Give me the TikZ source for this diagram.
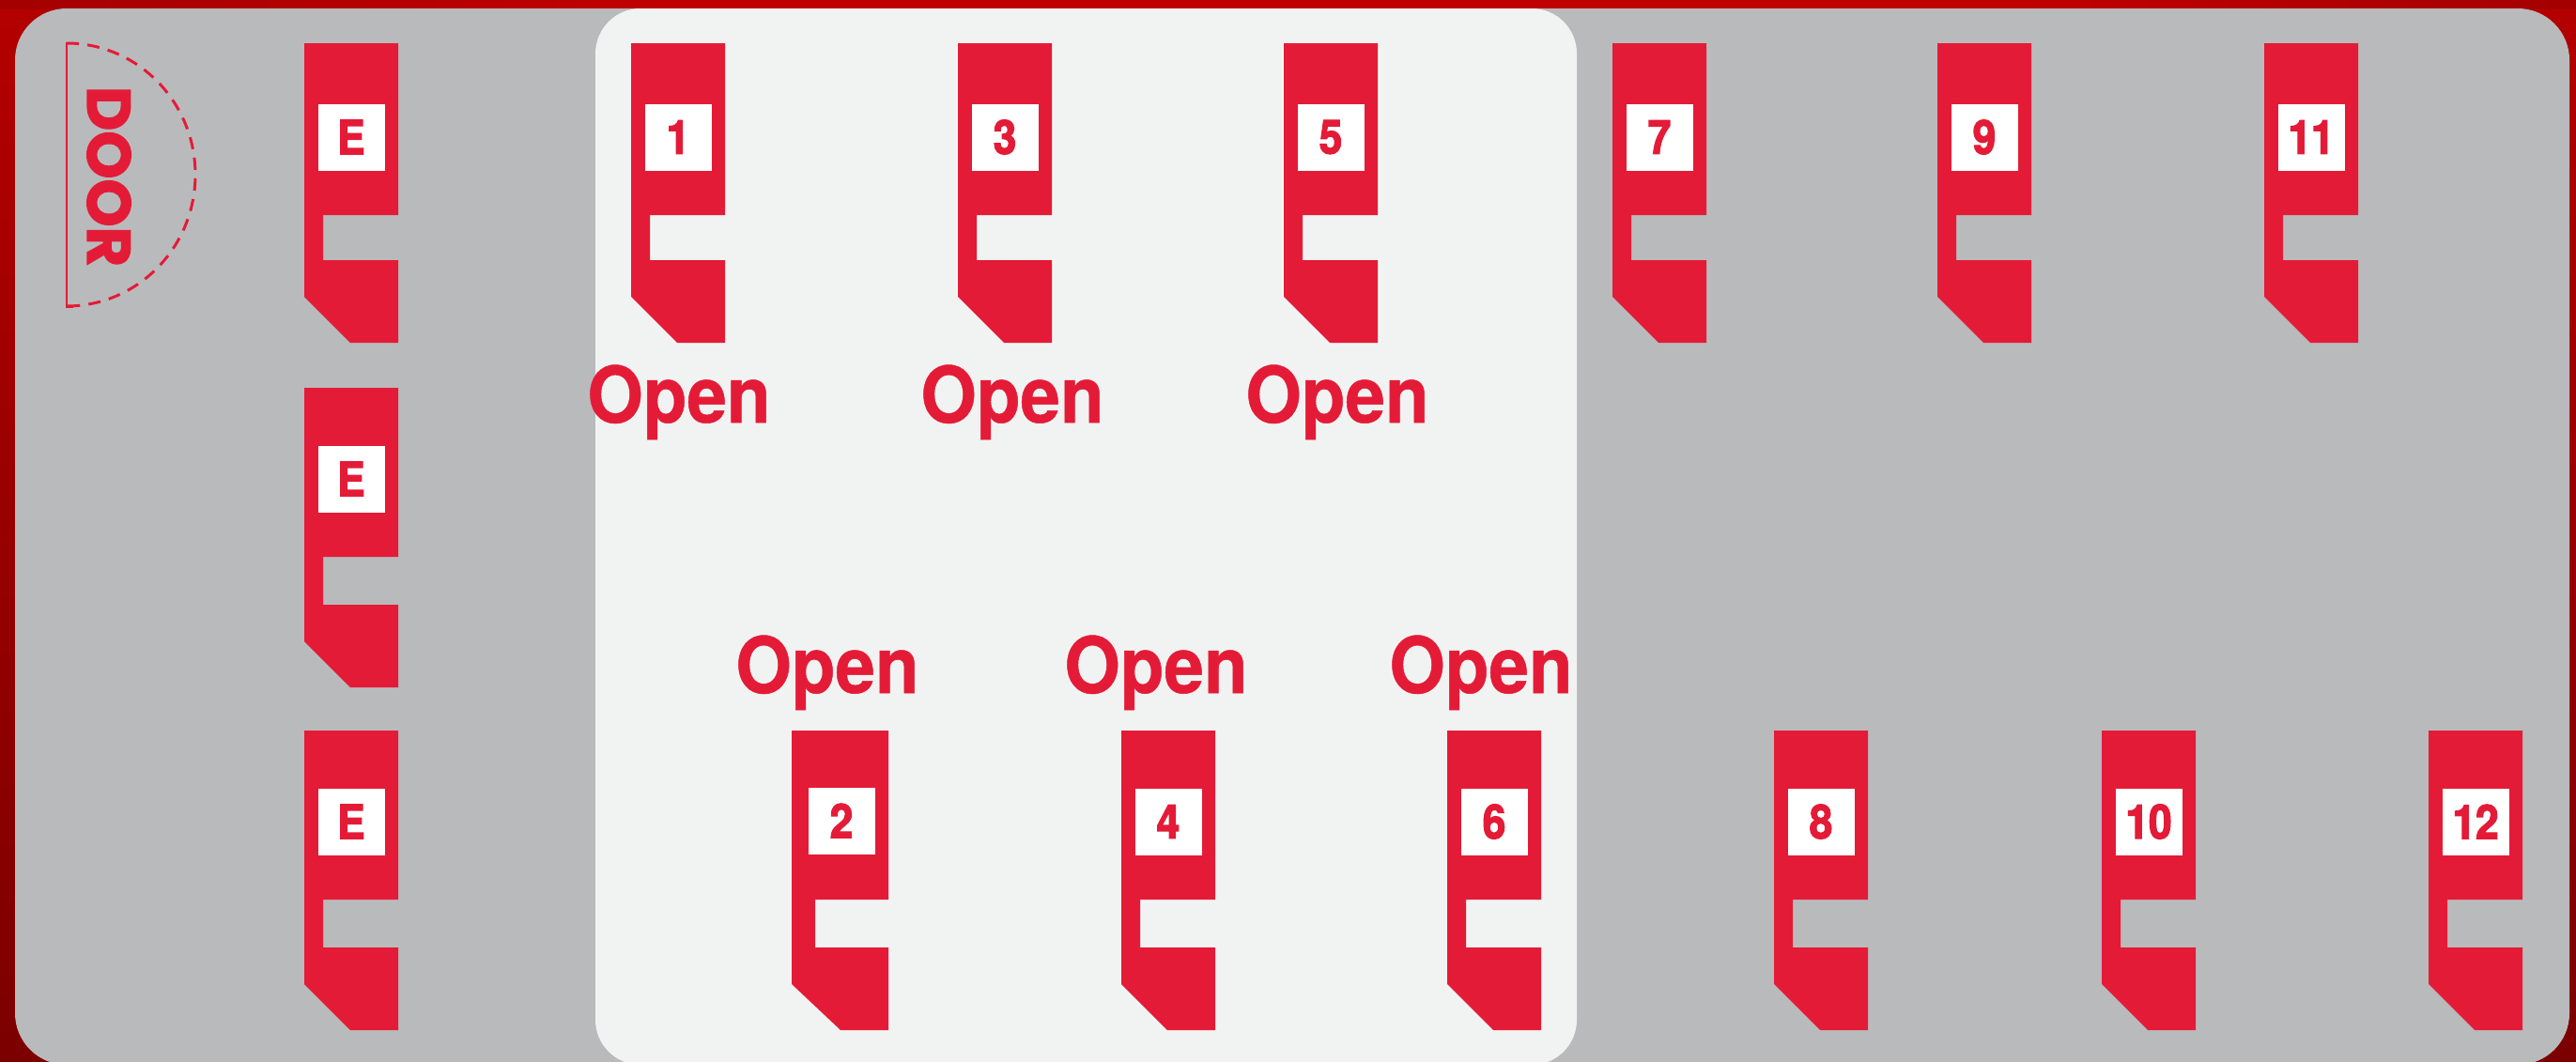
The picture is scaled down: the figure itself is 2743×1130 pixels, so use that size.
\documentclass[tikz,border=0pt]{standalone}
\usepackage{fontspec}
\setmainfont{TeX Gyre Heros}
\newfontfamily\doorfont[BoldFeatures={FakeBold=2}]{Poppins}
\newfontfamily\tagfont[FakeStretch=.88, BoldFeatures={FakeBold=2.5, FakeStretch=.88}]{TeX Gyre Heros}
\newfontfamily\openfont[FakeStretch=.92, BoldFeatures={FakeBold=.6, FakeStretch=.92}]{TeX Gyre Heros}

\definecolor{seatred}{HTML}{E41B37}
\definecolor{roomgrey}{HTML}{B9BABC}
\definecolor{openwhite}{HTML}{F1F3F2}
\definecolor{frametop}{HTML}{B40000}
\definecolor{framemid}{HTML}{A40000}
\definecolor{framelow}{HTML}{7C0000}
\definecolor{framebright}{HTML}{C00000}

\newdimen\pxu
\pxu=.01cm
\def\tagrow{100}
\def\notchrow{183}

\tikzset{
  seat/.style={fill=seatred, draw=none},
  tagbox/.style={fill=white, text=seatred, inner sep=0pt, minimum width=71\pxu, minimum height=71\pxu, font=\fontsize{14.3pt}{14.3pt}\tagfont\bfseries},
  openlabel/.style={text=seatred, anchor=base, inner sep=0pt, font=\fontsize{23.6pt}{23.6pt}\openfont\bfseries},
  stall/.pic={
    \fill[seat] (0,0) -- (100,0) -- (100,\notchrow) -- (20,\notchrow) -- (20,231) -- (100,231) -- (100,319) -- (49,319) -- (0,270) -- cycle;
    \node[tagbox] (-tag) at (50,\tagrow) {#1};
  }
}

\begin{document}
\begin{tikzpicture}[x=.01cm, y=-.01cm]
  \useasboundingbox (0,0) rectangle (2743,1130);
  \shade[top color=frametop, middle color=framemid, bottom color=framelow] (0,0) rectangle (2743,1130);
  \shade[left color=framemid, right color=framebright] (0,0) rectangle (700,9);
  \fill[framebright] (700,0) rectangle (2150,9);
  \shade[left color=framebright, right color=framemid] (2150,0) rectangle (2743,9);
  \begin{scope}
    \clip (0,0) rectangle (2743,1130);
    \fill[roomgrey, rounded corners=55\pxu] (16,9) rectangle (2736,1134);
    \fill[openwhite, rounded corners=48\pxu] (634,9) rectangle (1679,1134);
  \end{scope}

  % door
  \draw[seatred, line width=.85pt] (78,46) -- (71,46) -- (71,326) -- (78,326);
  \draw[seatred, line width=.85pt, dash pattern=on 3.7pt off 2.6pt] (71,46) arc[start angle=-90, end angle=90, x radius=137, y radius=140];
  \node[rotate=-90, text=seatred, inner sep=0pt, font=\fontsize{18.5pt}{18.5pt}\doorfont\bfseries] (door) at (116,188) {DOOR};

  % exit row
  \pic (e0) at (324,46) {stall=E};
  \def\tagrow{97}
  \def\notchrow{180}
  \pic (e1) at (324,413) {stall=E};
  \pic (e2) at (324,778) {stall=E};

  % odd row
  \def\tagrow{100}
  \def\notchrow{183}
  \pic (s1) at (672,46) {stall=1};
  \pic (s3) at (1020,46) {stall=3};
  \pic (s5) at (1367,46) {stall=5};
  \pic (s7) at (1717,46) {stall=7};
  \pic (s9) at (2063,46) {stall=9};
  \pic (s11) at (2411,46) {stall=11};

  % even row
  \def\tagrow{97}
  \def\notchrow{180}
  \fill[seat] (843,778) -- (946,778) -- (946,958) -- (868,958) -- (868,1009) -- (946,1009) -- (946,1097) -- (895,1097) -- (843,1048) -- cycle;
  \node[tagbox] (s2-tag) at (896,874) {2};
  \pic (s4) at (1194,778) {stall=4};
  \pic (s6) at (1541,778) {stall=6};
  \pic (s8) at (1889,778) {stall=8};
  \pic (s10) at (2238,778) {stall=10};
  \pic (s12) at (2586,778) {stall=12};

  \node[openlabel] (o1) at (723,450) {Open};
  \node[openlabel] (o3) at (1078,450) {Open};
  \node[openlabel] (o5) at (1424,450) {Open};
  \node[openlabel] (o2) at (881,738) {Open};
  \node[openlabel] (o4) at (1231,738) {Open};
  \node[openlabel] (o6) at (1577,738) {Open};
\end{tikzpicture}
\end{document}
